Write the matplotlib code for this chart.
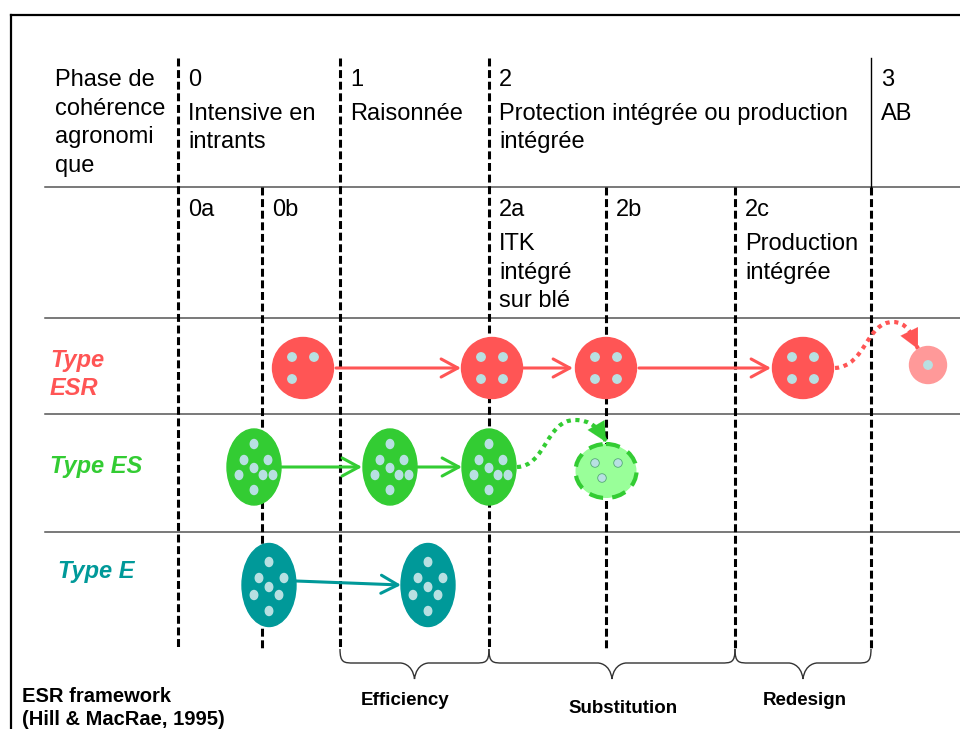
import matplotlib
matplotlib.use("Agg")
import matplotlib.pyplot as plt
from matplotlib.patches import Circle, Ellipse, PathPatch, FancyArrowPatch
from matplotlib.path import Path

plt.rcParams['font.family'] = ['Liberation Sans', 'DejaVu Sans']

# diagram content
phase_title = ["Phase de", "cohérence", "agronomi", "que"]
phase_cols = [178, 340, 489, 871]
phase_nums = ["0", "1", "2", "3"]
phase_names = [["Intensive en", "intrants"], ["Raisonnée"],
               ["Protection intégrée ou production", "intégrée"], ["AB"]]
sub_cols = [178, 262, 489, 606, 735]
sub_nums = ["0a", "0b", "2a", "2b", "2c"]
sub_names = [[], [], ["ITK", "intégré", "sur blé"], [], ["Production", "intégrée"]]

row_labels = [["Type", "ESR"], ["Type ES"], ["Type E"]]
row_colors = ["#ff5555", "#33cc33", "#009999"]

esr_x = [303, 492, 606, 803]
esr_dots = [3, 4, 4, 4]
es_x = [254, 390, 489]
e_x = [269, 428]

braces = [(340, 489, "Efficiency"), (489, 735, "Substitution"), (735, 871, "Redesign")]
brace_label_x = [405, 623, 805]
brace_label_y = [705, 713, 705]

dot_col = "#b8e0e2"

fig = plt.figure(figsize=(9.6, 7.29), dpi=100)
ax = fig.add_axes([0, 0, 1, 1])
ax.set_xlim(0, 960)
ax.set_ylim(729, 0)
ax.axis('off')

# frame
ax.plot([11, 960], [15, 15], color='black', lw=1.6)
ax.plot([11, 11], [15, 729], color='black', lw=1.6)

# horizontal separators
for y in [187, 318, 414, 532]:
    ax.plot([45, 960], [y, y], color='#555555', lw=1.1)

# vertical dashed lines
dash = (0, (2.6, 1.2))
for x in [178, 340, 489]:
    ax.plot([x, x], [58, 649], color='black', lw=2.2, ls=dash)
for x in [262, 606, 735, 871]:
    ax.plot([x, x], [187, 649], color='black', lw=2.2, ls=dash)
ax.plot([871, 871], [58, 187], color='black', lw=1.0)

fs = 17


def lines(x, ys, texts, **kw):
    for y, t in zip(ys, texts):
        ax.text(x, y, t, va='baseline', ha='left', **kw)


lines(55, [86, 115, 143, 172], phase_title, fontsize=fs)
for x, n, names in zip(phase_cols, phase_nums, phase_names):
    ax.text(x + 10, 86, n, va='baseline', fontsize=fs)
    lines(x + 10, [120, 148], names, fontsize=fs)
for x, n, names in zip(sub_cols, sub_nums, sub_names):
    ax.text(x + 10, 216, n, va='baseline', fontsize=fs)
    lines(x + 10, [250, 279, 307], names, fontsize=fs)

# row labels
lines(50, [367, 395], row_labels[0], fontsize=17, fontweight='bold',
      fontstyle='italic', color=row_colors[0])
lines(50, [473], row_labels[1], fontsize=17, fontweight='bold',
      fontstyle='italic', color=row_colors[1])
lines(58, [578], row_labels[2], fontsize=17, fontweight='bold',
      fontstyle='italic', color=row_colors[2])


def arrow(p0, p1, color, style='->'):
    a = FancyArrowPatch(p0, p1, arrowstyle=style + ',head_length=12,head_width=6.5',
                        color=color, lw=2.2, shrinkA=0, shrinkB=0,
                        mutation_scale=1, zorder=4)
    ax.add_patch(a)


# ESR row
y_esr = 368
four = [(-11, -11), (11, -11), (-11, 11), (11, 11)]
for x, nd in zip(esr_x, esr_dots):
    ax.add_patch(Circle((x, y_esr), 30.5, color=row_colors[0], zorder=5))
    for dx, dy in four[:nd]:
        ax.add_patch(Circle((x + dx, y_esr + dy), 4.2, color=dot_col, zorder=6))
arrow((336, y_esr), (461, y_esr), row_colors[0])
arrow((523, y_esr), (573, y_esr), row_colors[0])
arrow((639, y_esr), (771, y_esr), row_colors[0])
ax.add_patch(Circle((928, 365), 18.5, color='#ff9999', zorder=5))
ax.add_patch(Circle((928, 365), 4.2, color=dot_col, zorder=6))

# ES row
y_es = 467
es_off = [(0, -20), (-10, -4), (14, -4), (0, 4), (-15, 11), (9, 11), (19, 11), (0, 26)]
for x in es_x:
    ax.add_patch(Ellipse((x, y_es), 54, 76, color=row_colors[1], zorder=5))
    for dx, dy in es_off:
        ax.add_patch(Ellipse((x + dx, y_es + dy - 3), 7.5, 9, color=dot_col, zorder=6))
arrow((281, y_es), (362, y_es), row_colors[1])
arrow((417, y_es), (462, y_es), row_colors[1])
ax.add_patch(Ellipse((606, 471), 61, 54, facecolor='#99ff99', edgecolor=row_colors[1],
                     lw=3, ls=(0, (3.4, 2.2)), zorder=5))
for dx, dy in [(-11, -8), (12, -8), (-4, 7)]:
    ax.add_patch(Circle((606 + dx, 471 + dy), 4.3, facecolor=dot_col,
                        edgecolor='#55aa77', lw=0.6, zorder=6))

# E row
y_e = 585
e_off = [(0, -21), (-10, -5), (15, -5), (0, 4), (-15, 12), (10, 12), (0, 28)]
for x in e_x:
    ax.add_patch(Ellipse((x, y_e), 54, 83, color=row_colors[2], zorder=5))
    for dx, dy in e_off:
        ax.add_patch(Ellipse((x + dx, y_e + dy - 2), 7.5, 9, color=dot_col, zorder=6))
arrow((296, 581), (401, 585), row_colors[2])


def dotted_curve(pts, color, head_from):
    codes = [Path.MOVETO] + [Path.CURVE4] * (len(pts) - 1)
    ax.add_patch(PathPatch(Path(pts, codes), facecolor='none', edgecolor=color,
                           lw=3, ls=(0, (1, 1.1)), zorder=4))
    a = FancyArrowPatch(head_from, pts[-1], arrowstyle='-|>,head_length=14,head_width=7',
                        color=color, lw=0.1, shrinkA=0, shrinkB=0,
                        mutation_scale=1, zorder=7)
    ax.add_patch(a)


dotted_curve([(835, 368), (866, 366), (866, 322), (893, 322),
              (906, 322), (912, 333), (918, 349)], row_colors[0], (912, 337))
dotted_curve([(517, 467), (546, 466), (546, 420), (575, 420),
              (590, 420), (600, 428), (606, 442)], row_colors[1], (599, 430))

# braces
for (x0, x1, lab), lx, ly in zip(braces, brace_label_x, brace_label_y):
    xc = (x0 + x1) / 2
    top, mid, tip = 649, 663, 679
    pts = [(x0, top), (x0, mid), (x0 + 4, mid), (x0 + 14, mid),
           (xc - 14, mid), (xc - 14, mid), (xc - 2, mid), (xc, tip),
           (xc + 2, mid), (xc + 14, mid), (xc + 14, mid),
           (x1 - 14, mid), (x1 - 4, mid), (x1, mid), (x1, top)]
    codes = [Path.MOVETO, Path.CURVE4, Path.CURVE4, Path.CURVE4,
             Path.LINETO, Path.CURVE4, Path.CURVE4, Path.CURVE4,
             Path.CURVE4, Path.CURVE4, Path.CURVE4,
             Path.LINETO, Path.CURVE4, Path.CURVE4, Path.CURVE4]
    ax.add_patch(PathPatch(Path(pts, codes), facecolor='none', edgecolor='#333333', lw=1))
    ax.text(lx, ly, lab, ha='center', va='baseline', fontsize=13.5, fontweight='bold')

ax.text(22, 702, "ESR framework", va='baseline', fontsize=14.5, fontweight='bold')
ax.text(22, 725, "(Hill & MacRae, 1995)", va='baseline', fontsize=14.5, fontweight='bold')

fig.savefig("out.png", dpi=100)
